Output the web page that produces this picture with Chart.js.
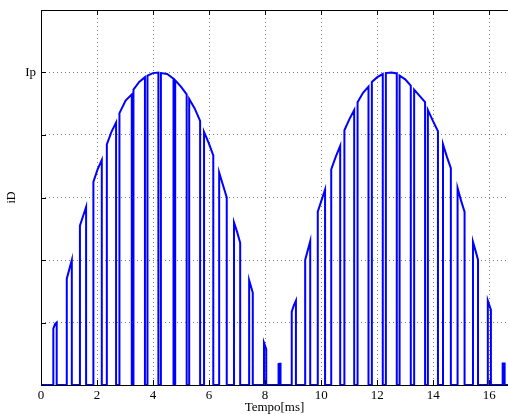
<!DOCTYPE html>
<html>
<head>
<meta charset="utf-8">
<script src="https://cdn.jsdelivr.net/npm/chart.js@4/dist/chart.umd.min.js"></script>
<style>
html,body{margin:0;padding:0;background:#fff;}
#wrap{width:508px;height:414px;}
</style>
</head>
<body>
<div id="wrap"><canvas id="c" width="508" height="414"></canvas></div>
<script>
// Pulse data (time in ms, current as fraction of Ip)
const pulseOn  = [0.44,0.92,1.39,1.87,2.35,2.80,3.30,3.80,4.28,4.79,5.29,5.82,6.36,6.89,7.43,7.96,8.48,8.95,9.43,9.88,10.36,10.83,11.30,11.81,12.31,12.80,13.32,13.81,14.35,14.87,15.42,15.95,16.48];
const pulseOff = [0.56,1.10,1.61,2.17,2.68,3.24,3.71,4.19,4.73,5.20,5.68,6.15,6.63,7.11,7.56,8.04,8.55,9.10,9.61,10.14,10.68,11.18,11.69,12.20,12.70,13.20,13.71,14.17,14.63,15.12,15.60,16.06,16.55];
const levelOn  = [0.18,0.34,0.51,0.65,0.77,0.87,0.945,0.99,0.998,0.975,0.915,0.81,0.68,0.52,0.335,0.135,0.067,0.235,0.40,0.555,0.69,0.815,0.905,0.97,0.998,0.99,0.945,0.88,0.77,0.63,0.458,0.27,0.069];
const levelMid = [0.195,0.37,0.54,0.69,0.81,0.91,0.97,0.998,0.995,0.955,0.885,0.775,0.64,0.49,0.315,0.125,0.068,0.255,0.43,0.59,0.73,0.85,0.935,0.985,1.0,0.978,0.925,0.845,0.73,0.59,0.43,0.255,0.069];
const levelOff = [0.20,0.40,0.57,0.72,0.84,0.93,0.985,1.0,0.98,0.93,0.845,0.735,0.60,0.455,0.295,0.115,0.068,0.27,0.46,0.625,0.765,0.88,0.955,0.995,0.997,0.958,0.905,0.812,0.694,0.554,0.40,0.24,0.069];
const xTicks = [0,2,4,6,8,10,12,14,16];
const yTicks = [0,0.2,0.4,0.6,0.8,1.0];
const yTickLabels = ['','','','','','Ip'];
const xMax = 16.67;
const yMax = 1.2;

const pts = [{x:0,y:0}];
for (let i=0;i<pulseOn.length;i++){
  pts.push({x:pulseOn[i],y:0});
  pts.push({x:pulseOn[i],y:levelOn[i]});
  pts.push({x:(pulseOn[i]+pulseOff[i])/2,y:levelMid[i]});
  pts.push({x:pulseOff[i],y:levelOff[i]});
  pts.push({x:pulseOff[i],y:0});
}
pts.push({x:xMax,y:0});

const FONT = "'Liberation Serif', 'Times New Roman', serif";

const frame = {
  id:'frame',
  afterDraw(chart){
    const {ctx, chartArea:a, scales} = chart;
    ctx.save();
    ctx.strokeStyle='#000';
    ctx.lineWidth=1;
    ctx.beginPath();
    ctx.moveTo(a.left+0.5,a.bottom); ctx.lineTo(a.left+0.5,a.top+0.5); ctx.lineTo(a.right,a.top+0.5);
    ctx.moveTo(a.left,a.bottom+0.5); ctx.lineTo(a.right,a.bottom+0.5);
    const L=5;
    xTicks.forEach(v=>{
      const x=Math.round(scales.x.getPixelForValue(v))+0.5;
      ctx.moveTo(x,a.bottom); ctx.lineTo(x,a.bottom-L);
      ctx.moveTo(x,a.top); ctx.lineTo(x,a.top+L);
    });
    yTicks.forEach(v=>{
      const y=Math.round(scales.y.getPixelForValue(v))+0.5;
      ctx.moveTo(a.left,y); ctx.lineTo(a.left+L,y);
    });
    ctx.stroke();
    ctx.restore();
  }
};

new Chart(document.getElementById('c'),{
  type:'line',
  data:{datasets:[{data:pts,borderColor:'#0000ff',borderWidth:2,pointRadius:0,tension:0,fill:false,clip:false}]},
  options:{
    responsive:false,animation:false,
    layout:{padding:{top:10,right:0,left:0,bottom:0}},
    plugins:{legend:{display:false},tooltip:{enabled:false}},
    scales:{
      x:{type:'linear',min:0,max:xMax,
        afterFit(s){s.height=29;s.paddingLeft=0;s.paddingRight=0;},
        afterBuildTicks(s){s.ticks=xTicks.map(v=>({value:v}));},
        ticks:{padding:3,maxRotation:0,autoSkip:false,color:'#000',font:{family:FONT,size:13},callback:(v)=>String(v)},
        grid:{drawTicks:false,color:'rgba(0,0,0,0.5)',lineWidth:1},
        border:{display:false,dash:[1,3]},
        title:{display:true,text:'Tempo[ms]',color:'#000',font:{family:FONT,size:13,lineHeight:1},padding:{top:0,bottom:0}}
      },
      y:{type:'linear',min:0,max:yMax,
        afterFit(s){s.width=41;s.paddingTop=0;s.paddingBottom=0;},
        afterBuildTicks(s){s.ticks=yTicks.map(v=>({value:v}));},
        ticks:{padding:5,color:'#000',font:{family:FONT,size:13},callback:(v,i)=>yTickLabels[i]},
        grid:{drawTicks:false,color:'rgba(0,0,0,0.5)',lineWidth:1},
        border:{display:false,dash:[1,3]},
        title:{display:true,text:'iD',color:'#000',font:{family:FONT,size:12,lineHeight:1},padding:{top:6,bottom:0}}
      }
    }
  },
  plugins:[frame]
});
</script>
</body>
</html>
